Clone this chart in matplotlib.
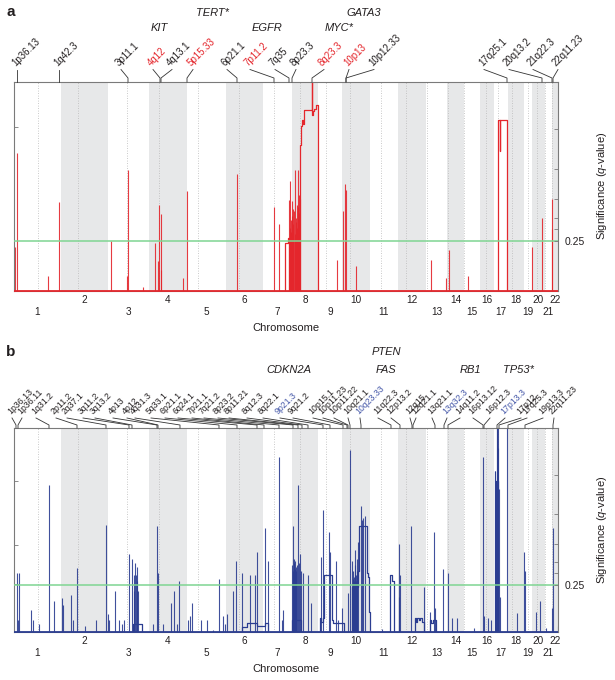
import matplotlib
matplotlib.use("Agg")
import matplotlib.pyplot as plt
import matplotlib.transforms as mtransforms
import numpy as np

plt.rcParams["font.family"] = ["Liberation Sans", "DejaVu Sans"]
plt.rcParams["mathtext.fontset"] = "custom"
plt.rcParams["mathtext.it"] = "Liberation Sans:italic"
plt.rcParams["mathtext.rm"] = "Liberation Sans"

# ---------------- data ----------------
chrom_labels = [str(i) for i in range(1, 23)]
chrom_sizes = [47, 47, 41, 38, 39, 37, 29, 26, 24, 28, 28, 28, 21, 17, 16, 14, 14, 16, 8, 13, 7, 6]
centromere_frac = [0.50, 0.37, 0.47, 0.25, 0.27, 0.36, 0.38, 0.31, 0.35, 0.28, 0.38, 0.30,
                   0.03, 0.03, 0.03, 0.40, 0.30, 0.22, 0.45, 0.42, 0.05, 0.05]

# panel a (amplifications)
amp_threshold = 0.238
amp_q_ticks = [0.238, 0.295, 0.348, 0.439, 0.583, 0.775]
amp_q_labels = ["0.25", "", "", "", "", ""]
amp_g_ticks = [0.784]
amp_spike_pos = [0.5, 3.3, 34, 45, 97.3, 113, 114, 129, 141, 144, 145, 146.5, 147, 169, 173,
                 222.5, 260, 265, 275, 275.5, 276, 276.5, 277, 277.7, 278, 278.5, 279, 279.3,
                 280, 280.5, 281, 281.5, 282, 282.7, 283, 283.7, 284, 284.7, 285, 285.5,
                 323, 329, 331, 332, 342, 417, 432, 435, 454, 518, 528, 537.5, 538]
amp_spike_h = [0.21, 0.66, 0.07, 0.425, 0.239, 0.07, 0.578, 0.015, 0.228, 0.14, 0.41, 0.367, 0.10, 0.06, 0.477,
               0.559, 0.40, 0.32, 0.436, 0.30, 0.527, 0.34, 0.28, 0.43, 0.36, 0.25, 0.32, 0.39,
               0.38, 0.27, 0.58, 0.33, 0.35, 0.41, 0.30, 0.58, 0.40, 0.46, 0.37, 0.44,
               0.148, 0.38, 0.51, 0.48, 0.118, 0.148, 0.06, 0.196, 0.07, 0.21, 0.35, 0.295, 0.44]
amp_step_x = [[270.5, 271, 274, 274.6],
              [285.4, 285.5, 286, 287, 288, 289, 290, 297.6, 298, 298.6, 300, 302, 304],
              [483.6, 484, 485.6, 486, 492.6, 493.1]]
amp_step_y = [[0, 0.23, 0.25, 0],
              [0, 0.58, 0.70, 0.79, 0.82, 0.80, 0.865, 1.2, 0.84, 0.86, 0.87, 0.89, 0],
              [0, 0.82, 0.67, 0.82, 0.69, 0]]
amp_bands = ["1p36.13", "1q42.3", "3p11.1", "4q12", "4q13.1", "5p15.33", "6p21.1", "7p11.2",
             "7q35", "8p23.3", "8q23.3", "10p13", "10p12.33", "17q25.1", "20q13.2", "21q22.3", "22q11.23"]
amp_band_pos = [3, 45, 114, 146, 147, 173, 223, 260, 275, 278, 298, 332, 332, 493, 528, 538, 539]
amp_band_highlight = [0, 0, 0, 1, 0, 1, 0, 1, 0, 0, 1, 1, 0, 0, 0, 0, 0]
amp_genes = ["TERT*", "KIT", "EGFR", "GATA3", "MYC*"]

# panel b (deletions)
del_threshold = 0.23
del_q_ticks = [0.230, 0.289, 0.343, 0.431, 0.578, 0.770]
del_q_labels = ["0.25", "", "", "", "", ""]
del_g_ticks = [0.235, 0.426, 0.74]
del_spikes = [[3.3, 0.29], [5, 0.29], [3.6, 0.06], [17, 0.11], [19.3, 0.06], [25.3, 0.04], [34.7, 0.72],
              [40.3, 0.15], [47.7, 0.165], [48.7, 0.13], [56.7, 0.18], [58.7, 0.06], [63.3, 0.315],
              [71, 0.03], [82, 0.06], [92.3, 0.525], [93.7, 0.09], [95, 0.06], [100.7, 0.20],
              [105, 0.06], [108, 0.04], [110, 0.06], [115.3, 0.38], [118.3, 0.36], [119.5, 0.28],
              [120, 0.20], [121, 0.34], [122, 0.28], [122.5, 0.25], [123.3, 0.32], [124, 0.20],
              [139.3, 0.04], [143.3, 0.52], [144.3, 0.29], [149.3, 0.04], [157, 0.14], [160, 0.20],
              [162.7, 0.04], [165.3, 0.25], [174.3, 0.06], [176, 0.08], [178.3, 0.14], [187, 0.06],
              [193.3, 0.06], [199.3, 0.01], [205, 0.26], [208.7, 0.08], [211, 0.04], [213.3, 0.09],
              [219.3, 0.20], [222, 0.35], [227.7, 0.29], [236, 0.28], [241.3, 0.28], [242.7, 0.39],
              [251, 0.51], [253.7, 0.35], [265.3, 0.86], [267.7, 0.06], [268.7, 0.11],
              [278, 0.33], [278.5, 0.30], [279, 0.52], [279.5, 0.34], [280, 0.36], [280.5, 0.31],
              [281, 0.35], [281.5, 0.32], [282, 0.30], [283, 0.33], [284, 0.72], [285, 0.34],
              [286, 0.38], [286.5, 0.30], [289, 0.29], [294, 0.28], [297, 0.14],
              [307, 0.37], [309, 0.60], [315, 0.49], [316, 0.39], [322, 0.35], [324, 0.06], [328, 0.12],
              [334, 0.19], [336, 0.89], [338, 0.35], [338.5, 0.26], [339, 0.30], [339.5, 0.25],
              [340, 0.27], [340.5, 0.40], [341, 0.33], [341.5, 0.28], [342, 0.25], [342.5, 0.30],
              [343, 0.36], [344, 0.44], [347, 0.62], [348, 0.55], [349, 0.56], [351, 0.57],
              [368, 0.015], [384.5, 0.17], [385, 0.43], [386, 0.28], [397, 0.52], [410, 0.22],
              [416, 0.10], [420, 0.49], [421, 0.12], [429, 0.31], [434, 0.29], [438, 0.07],
              [443, 0.07], [460, 0.02], [469, 0.86], [470, 0.08], [474, 0.07], [477, 0.06],
              [480.6, 0.79], [481.2, 0.79], [482.5, 1.1], [483, 1.1], [483.5, 0.9], [484, 1.1],
              [484.5, 0.7], [486, 0.17], [493.3, 1.1], [503.3, 0.095], [510.3, 0.39], [510.8, 0.30],
              [522, 0.10], [526, 0.15], [531.7, 0.02], [538.3, 0.116], [539.3, 0.51], [543.8, 0.03]]
del_step_x = [[118.9, 119, 128],
              [227.5, 228, 233, 243, 251, 254],
              [277.4, 277.6, 286.8],
              [305.5, 306, 307, 308.5, 309.5, 318, 319, 329.5],
              [337.8, 338, 343.5, 344.5, 353, 354, 355, 355.7],
              [375.9, 376, 378, 379.5],
              [400.9, 401, 402, 403, 405, 406, 408, 409.5],
              [415.4, 415.5, 417, 419, 421.5],
              [481.9, 482, 484.4]]
del_step_y = [[0, 0.04, 0],
              [0, 0.026, 0.045, 0.03, 0.045, 0],
              [0, 0.06, 0],
              [0, 0.07, 0.05, 0.07, 0.28, 0.06, 0.043, 0],
              [0, 0.22, 0.30, 0.52, 0.29, 0.27, 0.10, 0],
              [0, 0.28, 0.25, 0],
              [0, 0.07, 0.05, 0.07, 0.06, 0.07, 0.05, 0],
              [0, 0.06, 0.045, 0.06, 0],
              [0, 0.74, 0]]
del_bands = ["1p36.13", "1p36.11", "1q31.2", "2p11.2", "2q37.1", "3q11.2", "3q13.2", "4p13", "4p12",
             "4q31.3", "5q33.1", "6p21.1", "6q24.1", "7p21.1", "7q21.2", "8p23.2", "8p11.21", "8q12.3",
             "8q22.1", "9p21.3", "9q21.2", "10p15.1", "10p11.23", "10p11.22", "10q21.1", "10q23.33",
             "11q22.3", "12p13.2", "12q15", "12q21.1", "13q21.1", "13q32.3", "14q11.2", "16p13.12",
             "16p12.3", "17p13.3", "17p12", "17q25.3", "19p13.3", "22q11.23"]
del_band_pos = [2, 4, 35, 63, 92, 115, 118, 143, 144, 166, 205, 223, 243, 250, 265, 279, 284, 288,
                294, 309, 316, 329, 333, 334, 336, 347, 377, 386, 398, 399, 421, 430, 434, 469,
                470, 483, 485, 494, 511, 539]
del_band_highlight = [0] * 19 + [1] + [0] * 5 + [1] + [0] * 5 + [1] + [0] * 3 + [1] + [0] * 4
del_genes = ["PTEN", "CDKN2A", "FAS", "RB1", "TP53*"]

# ---------------- layout / style ----------------
W, H = 615, 680
AX_L, AX_R = 14, 558
A_TOP, A_BOT = 82, 290.6
B_TOP, B_BOT = 428, 632
amp_label_base = [3, 45, 107, 139, 158, 179, 213, 236, 261, 282, 310, 335, 360, 470, 495, 519, 544]
del_label_base = [-2, 8, 22, 42, 53, 69, 81, 99, 113, 121, 137, 151, 164, 178, 190, 204, 215, 233,
                  249, 266, 279, 299, 309, 320, 334, 346, 364, 377, 396, 402, 418, 433, 446, 459,
                  476, 491, 507, 513, 529, 540]
amp_gene_xy = [(213, 13), (159, 28), (267, 28), (364, 13), (339, 28)]
del_gene_xy = [(386, 352), (289, 370), (386, 370), (470, 370), (518, 370)]

SHADE = "#e7e8e9"
RED = "#e4262c"
BLUE = "#2b3d91"
GREEN = "#7fd592"
SPINE = "#7a7a7a"
TXT = "#231f20"
BLUE_LBL = "#4457a8"

fig = plt.figure(figsize=(W / 100, H / 100), dpi=100)


def fx(px):
    return px / W


def fy(py):
    return 1 - py / H


bounds = np.concatenate([[0], np.cumsum(chrom_sizes)])
total = bounds[-1]
centers = (bounds[:-1] + bounds[1:]) / 2


def setup_axes(top, bot, thr, q_ticks, q_labels, g_ticks):
    ax = fig.add_axes([fx(AX_L), fy(bot), (AX_R - AX_L) / W, (bot - top) / H])
    ax.set_xlim(0, total)
    ax.set_ylim(0, 1)
    for i in range(len(chrom_sizes)):
        if i % 2 == 1:
            ax.axvspan(bounds[i], bounds[i + 1], color=SHADE, lw=0, zorder=0)
        ax.axvline(bounds[i] + centromere_frac[i] * chrom_sizes[i], color="#b8b8b8",
                   lw=0.6, ls=(0, (1, 2)), zorder=0.5)
    ax.axhline(thr, color=GREEN, lw=1.1, zorder=3)
    for s in ax.spines.values():
        s.set_color(SPINE)
        s.set_linewidth(0.8)
    ax.set_xticks([])
    ax.set_yticks(g_ticks)
    ax.set_yticklabels([])
    ax.tick_params(axis="y", direction="in", length=3, color=SPINE, width=0.6)
    ax2 = ax.twinx()
    ax2.set_ylim(0, 1)
    ax2.set_yticks(q_ticks)
    ax2.set_yticklabels(q_labels)
    ax2.tick_params(axis="y", direction="in", length=3, color=SPINE, width=0.6,
                    labelsize=7.5, pad=5, labelcolor=TXT)
    for s in ax2.spines.values():
        s.set_visible(False)
    # chromosome numbers
    hpx = bot - top
    trans = mtransforms.blended_transform_factory(ax.transData, ax.transAxes)
    for i, lab in enumerate(chrom_labels):
        off = 9.5 if i % 2 == 1 else 21
        ax.text(centers[i], -off / hpx, lab, transform=trans, ha="center", va="center",
                fontsize=7.2, color=TXT)
    fig.text(fx((AX_L + AX_R) / 2), fy(bot + 37.5), "Chromosome", ha="center", va="center",
             fontsize=8, color=TXT)
    fig.text(fx(602), fy((top + bot) / 2), "Significance ($q$-value)", rotation=90,
             ha="center", va="center", fontsize=8, color=TXT)
    return ax, trans, hpx


def band_labels(ax, trans, hpx, names, pos, bases, hl, hl_color, base_up, kink_up, fs):
    for n, p, b, h in zip(names, pos, bases, hl):
        yk = 1 + kink_up / hpx
        yb = 1 + base_up / hpx
        ax.plot([p, p, b], [1, yk, yb], transform=trans, color="#333333", lw=0.6,
                clip_on=False, zorder=5)
        ax.text(b - 1.5, yb + 3 / hpx, n, transform=trans, rotation=45, rotation_mode="anchor",
                ha="left", va="baseline", fontsize=fs, color=hl_color if h else TXT)


# ---- panel a ----
axa, ta, ha_px = setup_axes(A_TOP, A_BOT, amp_threshold, amp_q_ticks, amp_q_labels, amp_g_ticks)
axa.vlines(amp_spike_pos, 0, amp_spike_h, color=RED, lw=0.8, alpha=0.9, zorder=2)
for xs, ys in zip(amp_step_x, amp_step_y):
    axa.plot(xs, ys, drawstyle="steps-post", color=RED, lw=0.9, zorder=2)
axa.hlines(0, 0, total, color=RED, lw=1.3, zorder=4, clip_on=False)
band_labels(axa, ta, ha_px, amp_bands, amp_band_pos, amp_label_base, amp_band_highlight, RED,
            12.5, 4, 7)
for g, (gx, gy) in zip(amp_genes, amp_gene_xy):
    fig.text(fx(gx), fy(gy), g, ha="center", va="center", fontsize=8, style="italic", color=TXT)
fig.text(fx(11), fy(12.5), "a", ha="center", va="center", fontsize=11, fontweight="bold", color=TXT)

# ---- panel b ----
axb, tb, hb_px = setup_axes(B_TOP, B_BOT, del_threshold, del_q_ticks, del_q_labels, del_g_ticks)
dpos = [s[0] for s in del_spikes]
dh = [s[1] for s in del_spikes]
axb.vlines(dpos, 0, dh, color=BLUE, lw=0.8, alpha=0.9, zorder=2)
for xs, ys in zip(del_step_x, del_step_y):
    axb.plot(xs, ys, drawstyle="steps-post", color=BLUE, lw=0.9, zorder=2)
axb.hlines(0, 0, total, color=BLUE, lw=1.3, zorder=4, clip_on=False)
band_labels(axb, tb, hb_px, del_bands, del_band_pos, del_label_base, del_band_highlight, BLUE_LBL,
            10, 3, 6.3)
for g, (gx, gy) in zip(del_genes, del_gene_xy):
    fig.text(fx(gx), fy(gy), g, ha="center", va="center", fontsize=8, style="italic", color=TXT)
fig.text(fx(11), fy(352), "b", ha="center", va="center", fontsize=11, fontweight="bold", color=TXT)

fig.savefig("out.png", dpi=100)
